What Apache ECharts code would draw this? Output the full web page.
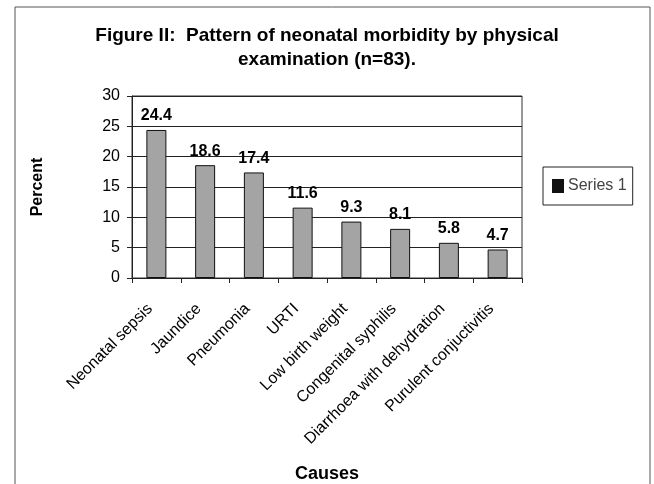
<!DOCTYPE html>
<html>
<head>
<meta charset="utf-8">
<script src="https://cdn.jsdelivr.net/npm/echarts@6/dist/echarts.min.js"></script>
<style>
html,body{margin:0;padding:0;background:#fff;}
#chart{width:654px;height:484px;}
</style>
</head>
<body>
<div id="chart"></div>
<script>
var titleLines = ['Figure II:  Pattern of neonatal morbidity by physical', 'examination (n=83).'];
var categories = ['Neonatal sepsis', 'Jaundice', 'Pneumonia', 'URTI', 'Low birth weight', 'Congenital syphilis', 'Diarrhoea with dehydration', 'Purulent conjuctivitis'];
var values = [24.4, 18.6, 17.4, 11.6, 9.3, 8.1, 5.8, 4.7];
var seriesName = 'Series 1';
var yAxisName = 'Percent';
var xAxisName = 'Causes';

var chart = echarts.init(document.getElementById('chart'), null, {renderer: 'canvas'});
var font = 'Arial, "Liberation Sans", sans-serif';
chart.setOption({
  backgroundColor: '#fff',
  animation: false,
  textStyle: {fontFamily: font},
  graphic: [{
    type: 'rect',
    shape: {x: 15, y: 7, width: 635, height: 500},
    style: {fill: 'none', stroke: '#555', lineWidth: 1},
    silent: true
  }],
  title: {
    text: titleLines.join('\n'),
    left: 'center',
    top: 19,
    textStyle: {fontFamily: font, fontSize: 19, fontWeight: 'bold', color: '#000', lineHeight: 24}
  },
  legend: {
    data: [{name: seriesName, itemStyle: {color: '#111'}}],
    left: 543,
    top: 167,
    orient: 'vertical',
    icon: 'rect',
    itemWidth: 10,
    itemHeight: 12,
    itemGap: 7,
    padding: [11, 6, 11, 9],
    borderColor: '#222',
    borderWidth: 1,
    textStyle: {fontFamily: font, fontSize: 16, color: '#444'}
  },
  grid: {left: 132, right: 132, top: 96, bottom: 206, containLabel: false, outerBoundsMode: 'none', show: true, borderColor: '#333', borderWidth: 1},
  xAxis: {
    type: 'category',
    data: categories,
    name: xAxisName,
    nameLocation: 'middle',
    nameGap: 187,
    nameTextStyle: {fontFamily: font, fontSize: 18, fontWeight: 'bold', color: '#000'},
    axisLine: {lineStyle: {color: '#222', width: 1}},
    axisTick: {show: true, length: 5, lineStyle: {color: '#222'}},
    axisLabel: {rotate: 45, interval: 0, margin: 22, padding: [0, 9, 0, 0], fontFamily: font, fontSize: 16, color: '#000'}
  },
  yAxis: {
    type: 'value',
    min: 0,
    max: 30,
    interval: 5,
    name: yAxisName,
    nameLocation: 'middle',
    nameRotate: 90,
    nameGap: 86,
    nameTextStyle: {fontFamily: font, fontSize: 16, fontWeight: 'bold', color: '#000'},
    axisLine: {show: true, lineStyle: {color: '#222', width: 1}},
    axisTick: {show: true, length: 5, lineStyle: {color: '#222'}},
    axisLabel: {margin: 12, fontFamily: font, fontSize: 16, color: '#000'},
    splitLine: {show: true, lineStyle: {color: '#222', width: 1}}
  },
  series: [{
    name: seriesName,
    type: 'bar',
    data: values,
    barWidth: 20,
    itemStyle: {color: '#a4a4a4', borderColor: '#111', borderWidth: 1},
    label: {
      show: true,
      position: 'top',
      distance: 6,
      fontFamily: font,
      fontSize: 16,
      fontWeight: 'bold',
      color: '#000',
      formatter: function (p) { return p.value.toFixed(1); }
    }
  }]
});
</script>
</body>
</html>
